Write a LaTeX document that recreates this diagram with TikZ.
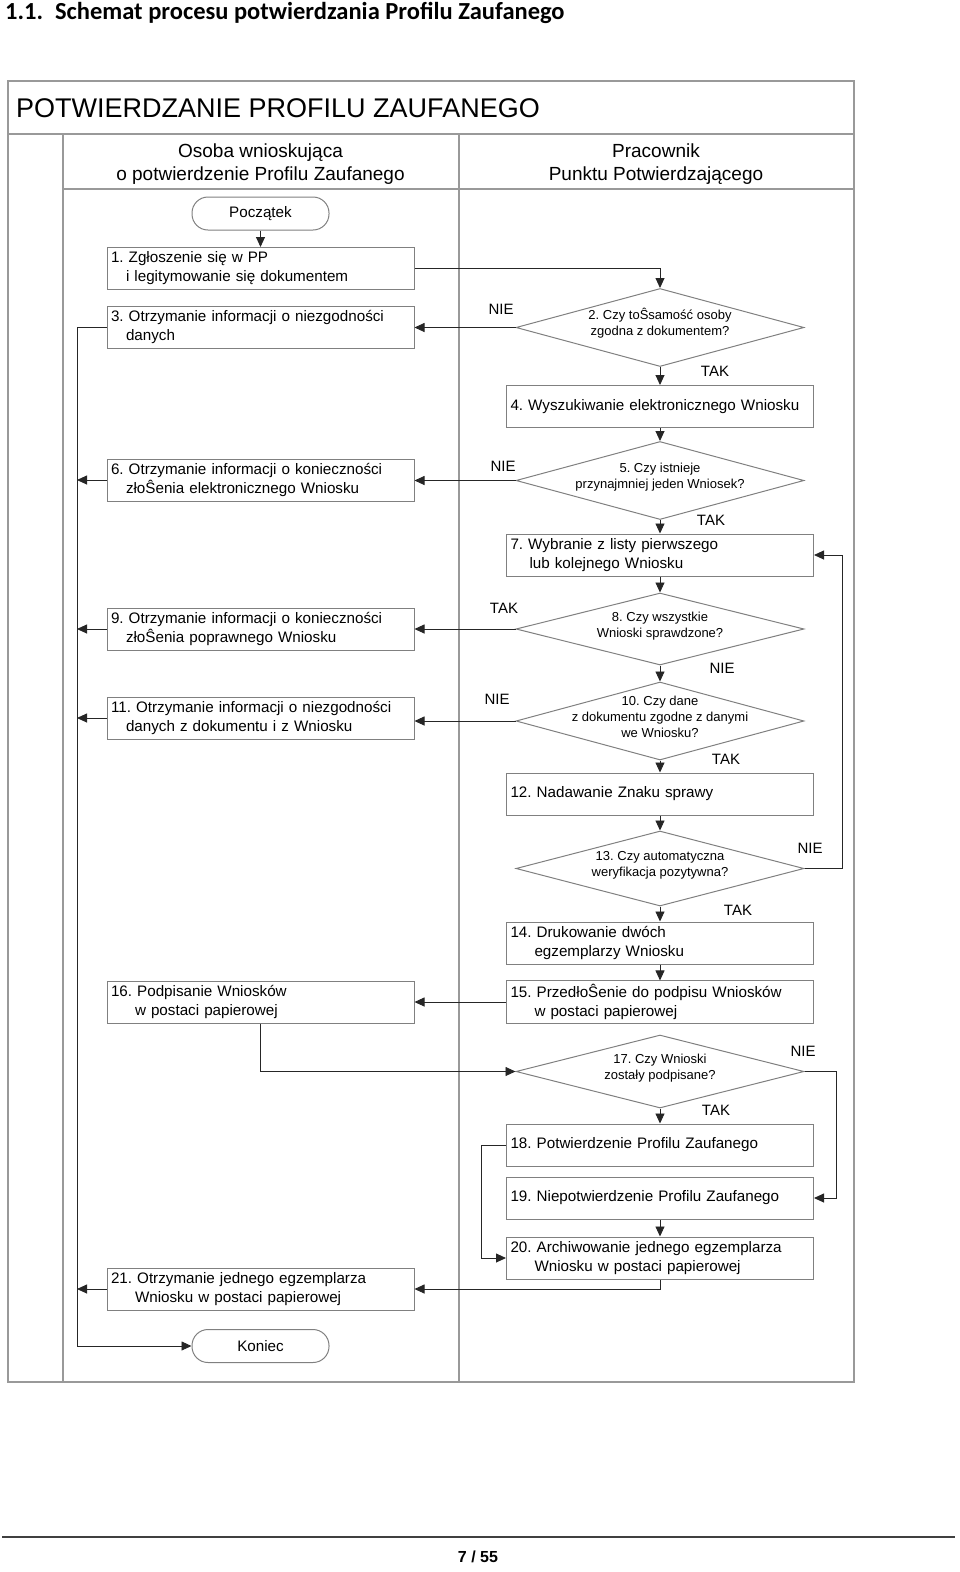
\documentclass[tikz,border=0pt]{standalone}
\usepackage{fontspec}
\setmainfont{Liberation Sans}
\newfontfamily\headfont{Carlito}
\usetikzlibrary{arrows.meta,shapes.geometric}

\newcommand{\lnind}[1]{\\\hspace*{#1pt}}
\newcommand{\dtext}[1]{\smash{\makebox[0pt]{\begin{tabular}[c]{@{}c@{}}#1\end{tabular}}}}

\begin{document}
\frenchspacing
\begin{tikzpicture}[x=1pt, y=-1pt,
  box/.style={rectangle, draw=gray, line width=1pt, fill=white, align=left,
              minimum width=307pt, minimum height=42pt, text width=299pt,
              inner xsep=4pt, font=\fontsize{15.2}{19}\selectfont},
  dec/.style={diamond, draw=gray, line width=1pt, fill=white, inner sep=0pt,
              minimum width=288pt, minimum height=78pt,
              font=\fontsize{13}{16}\selectfont},
  term/.style={rectangle, rounded corners=16pt, draw=gray, line width=1pt,
               minimum width=137pt, minimum height=33pt,
               font=\fontsize{15.2}{19}\selectfont},
  lane/.style={align=center, font=\fontsize{19}{23}\selectfont},
  lbl/.style={inner sep=0pt, font=\fontsize{15}{18}\selectfont},
  frame/.style={draw=gray!80, line width=1.5pt},
  arr/.style={draw=black!85, line width=0.9pt, -{Triangle[length=10pt,width=9pt]}},
  con/.style={draw=black!85, line width=0.9pt}
]
  \useasboundingbox (0,0) rectangle (960,1572);

  % page heading
  \node[anchor=west, inner sep=0pt, font=\headfont\bfseries\fontsize{24.5}{28}\selectfont]
    (pagetitle) at (5,13) {1.1.\hspace{12pt}Schemat procesu potwierdzania Profilu Zaufanego};

  % swimlane frame
  \draw[frame] (8,81) rectangle (854,1382);
  \draw[frame] (8,134) -- (854,134);
  \draw[frame] (63,189) -- (854,189);
  \draw[frame] (63,134) -- (63,1382);
  \draw[frame] (459,134) -- (459,1382);
  \node[anchor=west, inner sep=0pt, font=\fontsize{27}{30}\selectfont]
    (title) at (16,108) {POTWIERDZANIE PROFILU ZAUFANEGO};
  \node[lane] (lane1) at (260.5,164) {Osoba wnioskująca\\o potwierdzenie Profilu Zaufanego};
  \node[lane] (lane2) at (656,164) {Pracownik\\Punktu Potwierdzającego};

  % applicant lane
  \node[term] (start) at (260.5,213.5) {Początek};
  \node[box] (b1) at (260.5,268.5) {1. Zgłoszenie się w PP\lnind{15}i legitymowanie się dokumentem};
  \node[box] (b3) at (260.5,327) {3. Otrzymanie informacji o niezgodności\lnind{15}danych};
  \node[box] (b6) at (260.5,480) {6. Otrzymanie informacji o konieczności\lnind{15}złoŜenia elektronicznego Wniosku};
  \node[box] (b9) at (260.5,629) {9. Otrzymanie informacji o konieczności\lnind{15}złoŜenia poprawnego Wniosku};
  \node[box] (b11) at (260.5,718) {11. Otrzymanie informacji o niezgodności\lnind{15}danych z dokumentu i z Wniosku};
  \node[box] (b16) at (260.5,1002) {16. Podpisanie Wniosków\lnind{24}w postaci papierowej};
  \node[box] (b21) at (260.5,1289) {21. Otrzymanie jednego egzemplarza\lnind{24}Wniosku w postaci papierowej};
  \node[term] (kon) at (260.5,1346) {Koniec};
  \coordinate (rail) at (77,327);

  % clerk lane
  \node[dec] (d2) at (660,327.5) {\dtext{2. Czy toŜsamość osoby\\zgodna z dokumentem?}};
  \node[box] (b4) at (660,406.5) {4. Wyszukiwanie elektronicznego Wniosku};
  \node[dec] (d5) at (660,480.5) {\dtext{5. Czy istnieje\\przynajmniej jeden Wniosek?}};
  \node[box] (b7) at (660,555) {7. Wybranie z listy pierwszego\lnind{19}lub kolejnego Wniosku};
  \node[dec, minimum height=72pt] (d8) at (660,629) {\dtext{8. Czy wszystkie\\Wnioski sprawdzone?}};
  \node[dec] (d10) at (660,721) {\dtext{10. Czy dane\\z dokumentu zgodne z danymi\\we Wniosku?}};
  \node[box] (b12) at (660,794) {12. Nadawanie Znaku sprawy};
  \node[dec, minimum height=75pt] (d13) at (660,868.5) {\dtext{13. Czy automatyczna\\weryfikacja pozytywna?}};
  \node[box] (b14) at (660,943) {14. Drukowanie dwóch\lnind{24}egzemplarzy Wniosku};
  \node[box] (b15) at (660,1002) {15. PrzedłoŜenie do podpisu Wniosków\lnind{24}w postaci papierowej};
  \node[dec, minimum height=73pt] (d17) at (660,1071.5) {\dtext{17. Czy Wnioski\\zostały podpisane?}};
  \node[box] (b18) at (660,1145) {18. Potwierdzenie Profilu Zaufanego};
  \node[box] (b19) at (660,1198) {19. Niepotwierdzenie Profilu Zaufanego};
  \node[box] (b20) at (660,1258) {20. Archiwowanie jednego egzemplarza\lnind{24}Wniosku w postaci papierowej};

  % decision labels
  \node[lbl] (n2) at (501,309) {NIE};
  \node[lbl] (t2) at (715,371) {TAK};
  \node[lbl] (n5) at (503,466) {NIE};
  \node[lbl] (t5) at (711,520) {TAK};
  \node[lbl] (t8) at (504,608) {TAK};
  \node[lbl] (n8) at (722,668) {NIE};
  \node[lbl] (n10) at (497,699) {NIE};
  \node[lbl] (t10) at (726,759) {TAK};
  \node[lbl] (n13) at (810,848) {NIE};
  \node[lbl] (t13) at (738,910) {TAK};
  \node[lbl] (n17) at (803,1051) {NIE};
  \node[lbl] (t17) at (716,1110) {TAK};

  % flow
  \draw[arr] (start) -- (b1);
  \draw[arr] (b1.east) -| (d2.north);
  \draw[arr] (d2.west) -- (d2.west -| b3.east);
  \draw[arr] (d2) -- (b4);
  \draw[arr] (b4) -- (d5);
  \draw[arr] (d5.west) -- (d5.west -| b6.east);
  \draw[arr] (d5) -- (b7);
  \draw[arr] (b7) -- (d8);
  \draw[arr] (d8.west) -- (d8.west -| b9.east);
  \draw[arr] (d8) -- (d10);
  \draw[arr] (d10.west) -- (d10.west -| b11.east);
  \draw[arr] (d10) -- (b12);
  \draw[arr] (b12) -- (d13);
  \draw[arr] (d13.east) -- ++(38,0) |- (b7.east);
  \draw[arr] (d13) -- (b14);
  \draw[arr] (b14) -- (b15);
  \draw[arr] (b15) -- (b16);
  \draw[arr] (b16.south) |- (d17.west);
  \draw[arr] (d17) -- (b18);
  \draw[arr] (d17.east) -- ++(32,0) |- (b19.east);
  \draw[arr] (b18.west) -- ++(-25,0) |- (b20.west);
  \draw[arr] (b19) -- (b20);
  \draw[arr] (b20.south) |- (b21.east);

  % exits to the left rail
  \draw[arr] (b3.west) -| (rail |- kon.west) -- (kon.west);
  \draw[arr] (b6.west) -- (b6.west -| rail);
  \draw[arr] (b9.west) -- (b9.west -| rail);
  \draw[arr] (b11.west) -- (b11.west -| rail);
  \draw[arr] (b21.west) -- (b21.west -| rail);

  % page footer
  \draw[line width=1.5pt, black!75] (2,1537) -- (955,1537);
  \node[font=\bfseries\fontsize{16}{18}\selectfont] (pgno) at (478,1557) {7 / 55};
\end{tikzpicture}
\end{document}
